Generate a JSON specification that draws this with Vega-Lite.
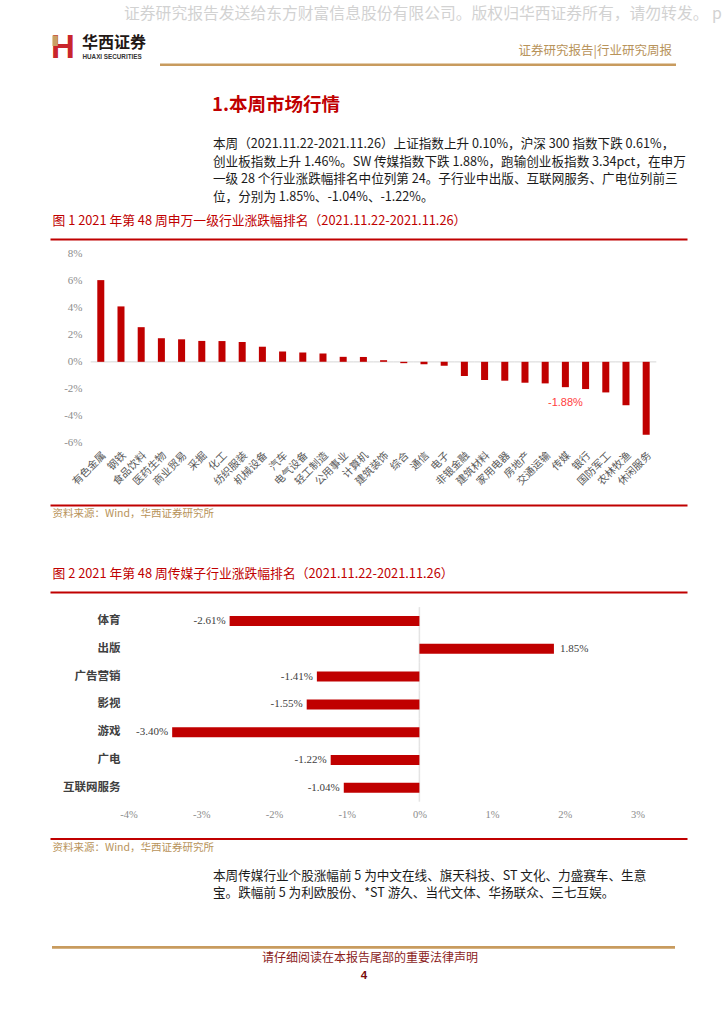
{
  "$schema": "https://vega.github.io/schema/vega-lite/v6.json",
  "width": 724,
  "height": 1024,
  "autosize": {"type": "none"},
  "padding": 0,
  "background": "white",
  "config": {
    "view": {"stroke": null},
    "font": "Noto Sans CJK SC",
    "locale": {"number": {"decimal": ".", "thousands": ",", "grouping": [3], "currency": ["", "%"], "minus": "-"}}
  },
  "resolve": {"scale": {"x": "independent", "y": "independent"}, "axis": {"x": "independent", "y": "independent"}},
  "layer": [
    {
      "data": {"values": [{"text": "证券研究报告发送给东方财富信息股份有限公司。版权归华西证券所有，请勿转发。 p"}]},
      "mark": {"type": "text", "x": 124, "y": 14, "align": "left", "baseline": "middle", "fontSize": 15.8, "color": "#d2d2d2"},
      "encoding": {"text": {"field": "text"}}
    },
    {
      "data": {"values": [{"text": "H"}]},
      "mark": {"type": "text", "x": 63, "y": 47.5, "align": "center", "baseline": "middle", "fontSize": 33, "fontWeight": "bold", "font": "Liberation Sans", "color": "#c9262c"},
      "encoding": {"text": {"field": "text"}}
    },
    {
      "data": {"values": [{"part": "logo"}]},
      "mark": {"type": "rect", "x": 52.5, "x2": 57.8, "y": 35.5, "y2": 46, "color": "#c9a063"},
      "encoding": {}
    },
    {
      "data": {"values": [{"text": "华西证券"}]},
      "mark": {"type": "text", "x": 82, "y": 43, "align": "left", "baseline": "middle", "fontSize": 16, "fontWeight": "bold", "color": "#231815"},
      "encoding": {"text": {"field": "text"}}
    },
    {
      "data": {"values": [{"text": "HUAXI SECURITIES"}]},
      "mark": {"type": "text", "x": 82.5, "y": 56.5, "align": "left", "baseline": "middle", "fontSize": 6.3, "fontWeight": "bold", "font": "Liberation Sans", "color": "#333333"},
      "encoding": {"text": {"field": "text"}}
    },
    {
      "data": {"values": [{"text": "证券研究报告|行业研究周报"}]},
      "mark": {"type": "text", "x": 672, "y": 50.5, "align": "right", "baseline": "middle", "fontSize": 12.5, "color": "#b8935a"},
      "encoding": {"text": {"field": "text"}}
    },
    {
      "data": {"values": [{"part": "header line"}]},
      "mark": {"type": "rect", "x": 160, "x2": 676, "y": 63.5, "y2": 66, "color": "#c89b5e"},
      "encoding": {}
    },
    {
      "data": {"values": [{"text": "1.本周市场行情"}]},
      "mark": {"type": "text", "x": 212, "y": 105, "align": "left", "baseline": "middle", "fontSize": 18.5, "fontWeight": "bold", "color": "#c00000"},
      "encoding": {"text": {"field": "text"}}
    },
    {
      "data": {"values": [{"text": "　　本周（2021.11.22-2021.11.26）上证指数上升 0.10%，沪深 300 指数下跌 0.61%，\n创业板指数上升 1.46%。SW 传媒指数下跌 1.88%，跑输创业板指数 3.34pct，在申万\n一级 28 个行业涨跌幅排名中位列第 24。子行业中出版、互联网服务、广电位列前三\n位，分别为 1.85%、-1.04%、-1.22%。"}]},
      "mark": {"type": "text", "x": 213, "y": 148, "align": "left", "baseline": "alphabetic", "lineBreak": "\n", "lineHeight": 17.5, "fontSize": 12.6, "color": "#1a1a1a"},
      "encoding": {"text": {"field": "text"}}
    },
    {
      "data": {"values": [{"text": "　　本周传媒行业个股涨幅前 5 为中文在线、旗天科技、ST 文化、力盛赛车、生意\n宝。跌幅前 5 为利欧股份、*ST 游久、当代文体、华扬联众、三七互娱。"}]},
      "mark": {"type": "text", "x": 213, "y": 879.7, "align": "left", "baseline": "alphabetic", "lineBreak": "\n", "lineHeight": 17, "fontSize": 12.6, "color": "#1a1a1a"},
      "encoding": {"text": {"field": "text"}}
    },
    {
      "data": {"values": [{"part": "footer line"}]},
      "mark": {"type": "rect", "x": 52, "x2": 675, "y": 946, "y2": 948.7, "color": "#c89b5e"},
      "encoding": {}
    },
    {
      "data": {"values": [{"text": "请仔细阅读在本报告尾部的重要法律声明"}]},
      "mark": {"type": "text", "x": 370, "y": 958, "align": "center", "baseline": "middle", "fontSize": 12, "color": "#8b1c1c"},
      "encoding": {"text": {"field": "text"}}
    },
    {
      "data": {"values": [{"text": "4"}]},
      "mark": {"type": "text", "x": 364, "y": 976, "align": "center", "baseline": "middle", "fontSize": 11.5, "fontWeight": "bold", "font": "Liberation Sans", "color": "#7a0c0c"},
      "encoding": {"text": {"field": "text"}}
    },
    {
      "data": {"values": [
        {"industry": "有色金属", "change": 6.06},
        {"industry": "钢铁", "change": 4.11},
        {"industry": "食品饮料", "change": 2.57},
        {"industry": "医药生物", "change": 1.75},
        {"industry": "商业贸易", "change": 1.67},
        {"industry": "采掘", "change": 1.55},
        {"industry": "化工", "change": 1.54},
        {"industry": "纺织服装", "change": 1.47},
        {"industry": "机械设备", "change": 1.12},
        {"industry": "汽车", "change": 0.77},
        {"industry": "电气设备", "change": 0.70},
        {"industry": "轻工制造", "change": 0.62},
        {"industry": "公用事业", "change": 0.37},
        {"industry": "计算机", "change": 0.36},
        {"industry": "建筑装饰", "change": 0.12},
        {"industry": "综合", "change": -0.10},
        {"industry": "通信", "change": -0.18},
        {"industry": "电子", "change": -0.30},
        {"industry": "非银金融", "change": -1.05},
        {"industry": "建筑材料", "change": -1.35},
        {"industry": "家用电器", "change": -1.40},
        {"industry": "房地产", "change": -1.55},
        {"industry": "交通运输", "change": -1.60},
        {"industry": "传媒", "change": -1.88},
        {"industry": "银行", "change": -2.02},
        {"industry": "国防军工", "change": -2.27},
        {"industry": "农林牧渔", "change": -3.22},
        {"industry": "休闲服务", "change": -5.41}
      ]},
      "resolve": {"axis": {"x": "independent", "y": "independent"}},
      "layer": [
        {
          "mark": {"type": "tick", "color": "#d9d9d9", "size": 20.2, "thickness": 1.5},
          "encoding": {
            "x": {"field": "industry", "type": "nominal",
              "scale": {"type": "band", "domain": ["_l1", "_l2", "有色金属", "钢铁", "食品饮料", "医药生物", "商业贸易", "采掘", "化工", "纺织服装", "机械设备", "汽车", "电气设备", "轻工制造", "公用事业", "计算机", "建筑装饰", "综合", "通信", "电子", "非银金融", "建筑材料", "家用电器", "房地产", "交通运输", "传媒", "银行", "国防军工", "农林牧渔", "休闲服务", "_r1"], "range": [50, 687], "paddingInner": 0.653, "paddingOuter": 0.594, "align": 0.287},
              "axis": {"orient": "top", "offset": -239, "domainColor": "#c00000", "domainWidth": 2, "labels": false, "ticks": false,
                "title": "图 1 2021 年第 48 周申万一级行业涨跌幅排名（2021.11.22-2021.11.26）",
                "titleX": 52, "titleY": -19, "titleAlign": "left", "titleBaseline": "middle", "titleAngle": 0,
                "titleColor": "#c00000", "titleFontSize": 12.8, "titleFontWeight": "normal", "titleFont": "Noto Sans CJK SC"}},
            "y": {"datum": 0, "type": "quantitative",
              "scale": {"domain": [-10.62, 9.11], "range": [505, 239], "nice": false, "zero": false}, "axis": null}
          }
        },
        {
          "mark": {"type": "bar", "color": "#c00000"},
          "encoding": {
            "x": {"field": "industry", "type": "nominal",
              "scale": {"type": "band", "domain": ["_l1", "_l2", "有色金属", "钢铁", "食品饮料", "医药生物", "商业贸易", "采掘", "化工", "纺织服装", "机械设备", "汽车", "电气设备", "轻工制造", "公用事业", "计算机", "建筑装饰", "综合", "通信", "电子", "非银金融", "建筑材料", "家用电器", "房地产", "交通运输", "传媒", "银行", "国防军工", "农林牧渔", "休闲服务", "_r1"], "range": [50, 687], "paddingInner": 0.653, "paddingOuter": 0.594, "align": 0.287},
              "axis": {"orient": "bottom", "offset": -576, "labelAngle": -45, "labelAlign": "right", "labelBaseline": "top",
                "labelExpr": "slice(datum.value, 0, 1) === '_' ? '' : datum.value",
                "domain": false, "ticks": false, "tickSize": 0, "labelPadding": 2, "labelOverlap": false, "title": null,
                "labelFontSize": 10.5, "labelColor": "#595959", "labelFont": "Noto Sans CJK SC"}},
            "y": {"field": "change", "type": "quantitative", "stack": null,
              "scale": {"domain": [-10.62, 9.11], "range": [505, 239], "nice": false, "zero": false},
              "axis": {"orient": "left", "offset": -84, "values": [-6, -4, -2, 0, 2, 4, 6, 8], "labelExpr": "datum.value + '%'",
                "domain": false, "ticks": false, "tickSize": 0, "labelPadding": 2, "grid": false, "title": null,
                "labelFont": "Liberation Sans Narrow", "labelFontSize": 11, "labelColor": "#8c8c8c"}}
          }
        },
        {
          "transform": [{"filter": "datum.industry === '传媒'"}],
          "mark": {"type": "text", "baseline": "middle", "align": "center", "dy": 15.5, "font": "Liberation Sans", "fontSize": 11, "color": "#ff3d3d"},
          "encoding": {
            "x": {"field": "industry", "type": "nominal",
              "scale": {"type": "band", "domain": ["_l1", "_l2", "有色金属", "钢铁", "食品饮料", "医药生物", "商业贸易", "采掘", "化工", "纺织服装", "机械设备", "汽车", "电气设备", "轻工制造", "公用事业", "计算机", "建筑装饰", "综合", "通信", "电子", "非银金融", "建筑材料", "家用电器", "房地产", "交通运输", "传媒", "银行", "国防军工", "农林牧渔", "休闲服务", "_r1"], "range": [50, 687], "paddingInner": 0.653, "paddingOuter": 0.594, "align": 0.287},
              "axis": {"orient": "bottom", "offset": -519, "domainColor": "#c00000", "domainWidth": 2, "labels": false, "ticks": false,
                "title": "资料来源：Wind，华西证券研究所",
                "titleX": 52, "titleY": 8, "titleAlign": "left", "titleBaseline": "middle", "titleAngle": 0,
                "titleColor": "#b8935a", "titleFontSize": 10.5, "titleFontWeight": "normal", "titleFont": "Noto Sans CJK SC"}},
            "y": {"field": "change", "type": "quantitative",
              "scale": {"domain": [-10.62, 9.11], "range": [505, 239], "nice": false, "zero": false}, "axis": null},
            "text": {"field": "change", "type": "quantitative", "format": "$.2f"}
          }
        }
      ]
    },
    {
      "data": {"values": [
        {"sector": "体育", "change": -2.61},
        {"sector": "出版", "change": 1.85},
        {"sector": "广告营销", "change": -1.41},
        {"sector": "影视", "change": -1.55},
        {"sector": "游戏", "change": -3.40},
        {"sector": "广电", "change": -1.22},
        {"sector": "互联网服务", "change": -1.04}
      ]},
      "resolve": {"axis": {"x": "independent", "y": "independent"}},
      "layer": [
        {
          "mark": {"type": "tick", "color": "#d9d9d9", "size": 27.8, "thickness": 1.5},
          "encoding": {
            "x": {"datum": 0, "type": "quantitative",
              "scale": {"domain": [-5.08, 3.68], "range": [50, 687], "nice": false, "zero": false},
              "axis": {"orient": "top", "offset": -592, "domainColor": "#c00000", "domainWidth": 2, "labels": false, "ticks": false, "grid": false,
                "title": "图 2 2021 年第 48 周传媒子行业涨跌幅排名（2021.11.22-2021.11.26）",
                "titleX": 52, "titleY": -19, "titleAlign": "left", "titleBaseline": "middle", "titleAngle": 0,
                "titleColor": "#c00000", "titleFontSize": 12.8, "titleFontWeight": "normal", "titleFont": "Noto Sans CJK SC"}},
            "y": {"field": "sector", "type": "nominal", "sort": null,
              "scale": {"type": "band", "range": [602.1, 806.7], "paddingInner": 0.64, "paddingOuter": 0.5}, "axis": null}
          }
        },
        {
          "mark": {"type": "bar", "color": "#c00000"},
          "encoding": {
            "x": {"field": "change", "type": "quantitative", "stack": null,
              "scale": {"domain": [-5.08, 3.68], "range": [50, 687], "nice": false, "zero": false},
              "axis": {"orient": "bottom", "offset": -185.5, "values": [-4, -3, -2, -1, 0, 1, 2, 3], "labelExpr": "datum.value + '%'",
                "domainColor": "#c00000", "domainWidth": 2, "ticks": false, "tickSize": 0, "grid": false,
                "labelPadding": -24, "labelBaseline": "middle", "labelFont": "Liberation Sans Narrow", "labelFontSize": 10.5, "labelColor": "#8c8c8c",
                "title": "资料来源：Wind，华西证券研究所",
                "titleX": 52, "titleY": 8.5, "titleAlign": "left", "titleBaseline": "middle", "titleAngle": 0,
                "titleColor": "#b8935a", "titleFontSize": 10.5, "titleFontWeight": "normal", "titleFont": "Noto Sans CJK SC"}},
            "y": {"field": "sector", "type": "nominal", "sort": null,
              "scale": {"type": "band", "range": [602.1, 806.7], "paddingInner": 0.64, "paddingOuter": 0.5},
              "axis": {"orient": "left", "offset": -122, "domain": false, "ticks": false, "tickSize": 0, "labelPadding": 2, "title": null,
                "labelFontWeight": "bold", "labelFontSize": 11.5, "labelColor": "#404040", "labelFont": "Noto Sans CJK SC"}}
          }
        },
        {
          "transform": [{"filter": "datum.change < 0"}],
          "mark": {"type": "text", "align": "right", "baseline": "middle", "dx": -4, "font": "Liberation Serif", "fontSize": 11, "color": "#404040"},
          "encoding": {
            "x": {"field": "change", "type": "quantitative",
              "scale": {"domain": [-5.08, 3.68], "range": [50, 687], "nice": false, "zero": false}, "axis": null},
            "y": {"field": "sector", "type": "nominal", "sort": null,
              "scale": {"type": "band", "range": [602.1, 806.7], "paddingInner": 0.64, "paddingOuter": 0.5}, "axis": null},
            "text": {"field": "change", "type": "quantitative", "format": "$.2f"}
          }
        },
        {
          "transform": [{"filter": "datum.change >= 0"}],
          "mark": {"type": "text", "align": "left", "baseline": "middle", "dx": 6, "font": "Liberation Serif", "fontSize": 11, "color": "#404040"},
          "encoding": {
            "x": {"field": "change", "type": "quantitative",
              "scale": {"domain": [-5.08, 3.68], "range": [50, 687], "nice": false, "zero": false}, "axis": null},
            "y": {"field": "sector", "type": "nominal", "sort": null,
              "scale": {"type": "band", "range": [602.1, 806.7], "paddingInner": 0.64, "paddingOuter": 0.5}, "axis": null},
            "text": {"field": "change", "type": "quantitative", "format": "$.2f"}
          }
        }
      ]
    }
  ]
}
